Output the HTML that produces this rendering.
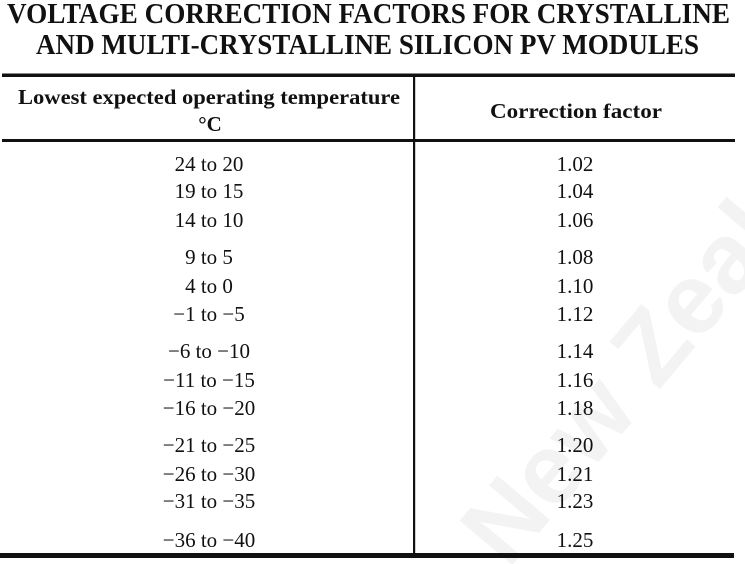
<!DOCTYPE html>
<html>
<head>
<meta charset="utf-8">
<style>
html,body{margin:0;padding:0;background:#fff;width:745px;height:564px;overflow:hidden;}
svg{display:block;overflow:hidden;}
text{font-family:"Liberation Serif",serif;fill:#111;}
.b{font-weight:bold;}
.d{font-size:21px;}
</style>
</head>
<body>
<svg width="745" height="564" viewBox="0 0 745 564" xmlns="http://www.w3.org/2000/svg">
<rect width="745" height="564" fill="#fff"/>
<!-- watermark -->
<text x="508" y="570" transform="rotate(-50 508 570)" style="font-family:'Liberation Sans',sans-serif;font-weight:bold;font-size:100px;fill:#f3f3f3;">New Zealand</text>

<!-- title -->
<text class="b" x="7" y="23" font-size="28" textLength="723" lengthAdjust="spacingAndGlyphs">VOLTAGE CORRECTION FACTORS FOR CRYSTALLINE</text>
<text class="b" x="36" y="54" font-size="28" textLength="663" lengthAdjust="spacingAndGlyphs">AND MULTI-CRYSTALLINE SILICON PV MODULES</text>

<!-- rules -->
<rect x="2" y="73.5" width="733" height="3.5" fill="#111"/>
<rect x="2" y="139" width="733" height="3" fill="#111"/>
<rect x="413" y="77" width="2.2" height="477" fill="#111"/>
<rect x="0" y="553" width="734" height="5" fill="#111"/>

<!-- header -->
<text class="b" x="18" y="104" font-size="21" textLength="382" lengthAdjust="spacingAndGlyphs">Lowest expected operating temperature</text>
<text class="b" x="210" y="131" font-size="21" text-anchor="middle">°C</text>
<text class="b" x="490" y="118" font-size="21" textLength="172" lengthAdjust="spacingAndGlyphs">Correction factor</text>

<!-- left column -->
<g class="d" text-anchor="middle">
<text x="209" y="171">24 to 20</text>
<text x="209" y="198">19 to 15</text>
<text x="209" y="227">14 to 10</text>
<text x="209" y="264">9 to 5</text>
<text x="209" y="293">4 to 0</text>
<text x="209" y="321">−1 to −5</text>
<text x="209" y="358">−6 to −10</text>
<text x="209" y="387">−11 to −15</text>
<text x="209" y="415">−16 to −20</text>
<text x="209" y="452">−21 to −25</text>
<text x="209" y="481">−26 to −30</text>
<text x="209" y="508">−31 to −35</text>
<text x="209" y="547">−36 to −40</text>
</g>

<!-- right column -->
<g class="d" text-anchor="middle">
<text x="575" y="171">1.02</text>
<text x="575" y="198">1.04</text>
<text x="575" y="227">1.06</text>
<text x="575" y="264">1.08</text>
<text x="575" y="293">1.10</text>
<text x="575" y="321">1.12</text>
<text x="575" y="358">1.14</text>
<text x="575" y="387">1.16</text>
<text x="575" y="415">1.18</text>
<text x="575" y="452">1.20</text>
<text x="575" y="481">1.21</text>
<text x="575" y="508">1.23</text>
<text x="575" y="547">1.25</text>
</g>
</svg>
</body>
</html>
